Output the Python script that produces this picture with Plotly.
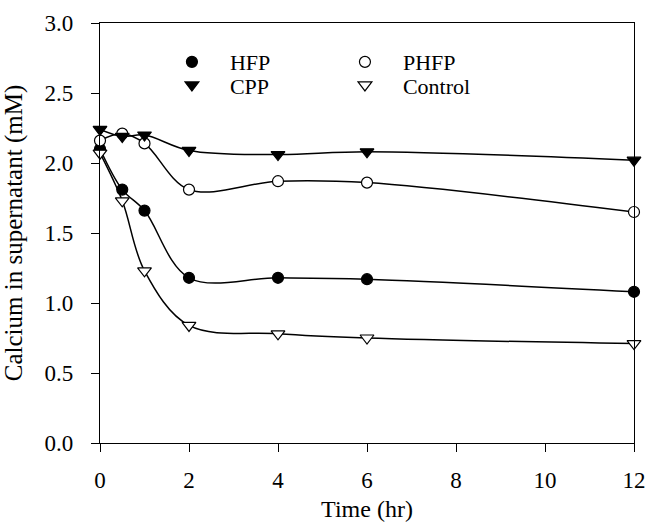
import plotly.graph_objects as go

time_hr = [0, 0.5, 1, 2, 4, 6, 12]
hfp = [2.10, 1.81, 1.66, 1.18, 1.18, 1.17, 1.08]
phfp = [2.16, 2.21, 2.14, 1.81, 1.87, 1.86, 1.65]
cpp = [2.24, 2.19, 2.20, 2.09, 2.06, 2.08, 2.02]
control = [2.07, 1.73, 1.23, 0.84, 0.78, 0.75, 0.71]

x_ticks = [0, 2, 4, 6, 8, 10, 12]
y_ticks = [0.0, 0.5, 1.0, 1.5, 2.0, 2.5, 3.0]
y_tick_labels = ["0.0", "0.5", "1.0", "1.5", "2.0", "2.5", "3.0"]

FONT = "Liberation Serif, Times New Roman, serif"
TICK_FS = 23
LEG_FS = 22

# name, values, symbol, fill, legend id, legend x, legend y (paper)
series = [
    ("HFP", hfp, "circle", "black", "legend", 0.101, 0.907),
    ("PHFP", phfp, "circle", "white", "legend2", 0.425, 0.907),
    ("CPP", cpp, "triangle-down", "black", "legend3", 0.101, 0.852),
    ("Control", control, "triangle-down", "white", "legend4", 0.425, 0.852),
]

fig = go.Figure()
for name, vals, sym, fill, lg, lx, ly in series:
    fig.add_trace(go.Scatter(
        x=time_hr, y=vals, mode="lines", showlegend=False,
        line=dict(color="black", width=1.5, shape="spline", smoothing=1.0),
        hoverinfo="skip"))
legend_layouts = {}
for name, vals, sym, fill, lg, lx, ly in series:
    fig.add_trace(go.Scatter(
        x=time_hr, y=vals, mode="markers", name=name, legend=lg,
        marker=dict(symbol=sym, size=12 if "triangle" in sym else 11,
                    color=fill, line=dict(color="black", width=1.2)),
        cliponaxis=False))
    legend_layouts[lg] = dict(
        x=lx, y=ly, xanchor="left", yanchor="middle",
        bgcolor="rgba(0,0,0,0)", itemwidth=66,
        font=dict(family=FONT, size=LEG_FS, color="black"))

fig.update_layout(
    width=646, height=530,
    margin=dict(l=100, r=12, t=23, b=87, autoexpand=False),
    paper_bgcolor="white", plot_bgcolor="white",
    font=dict(family=FONT, size=TICK_FS, color="black"),
    **legend_layouts,
)
fig.update_xaxes(
    range=[0, 12], tickvals=x_ticks, ticks="outside", ticklen=8, tickwidth=1.3,
    tickcolor="black", showline=True, linecolor="black", linewidth=1.3,
    mirror=True, showgrid=False, zeroline=False, ticklabelstandoff=8,
    automargin=False,
    tickfont=dict(family=FONT, size=TICK_FS, color="black"),
    title=dict(text="Time (hr)", standoff=8, font=dict(family=FONT, size=24)),
)
fig.update_yaxes(
    range=[0, 3.0], tickvals=y_ticks, ticktext=y_tick_labels, ticks="outside",
    ticklen=8, tickwidth=1.3, tickcolor="black", showline=True,
    linecolor="black", linewidth=1.3, mirror=True, showgrid=False,
    zeroline=False, ticklabelstandoff=13, automargin=False,
    tickfont=dict(family=FONT, size=TICK_FS, color="black"),
    title=dict(text="Calcium in supernatant (mM)", standoff=21,
               font=dict(family=FONT, size=25)),
)

fig.write_html("out.html", config={"displayModeBar": False},
               post_script="document.body.style.margin='0';")
